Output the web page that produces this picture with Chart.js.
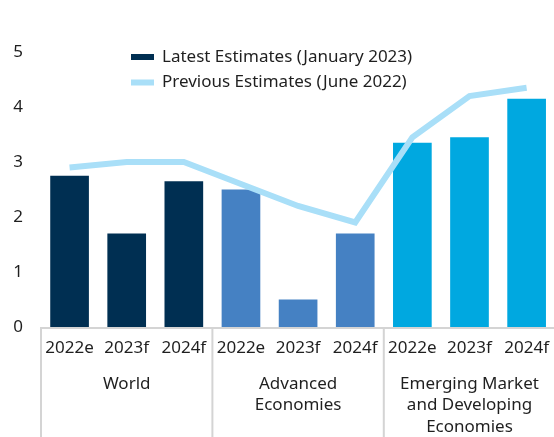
<!DOCTYPE html>
<html>
<head>
<meta charset="utf-8">
<script src="https://cdn.jsdelivr.net/npm/chart.js@4"></script>
<style>
	html, body { margin: 0; padding: 0; background: #fff; }
	#wrap { width: 554px; height: 437px; overflow: hidden; }
	canvas { display: block; }
</style>
</head>
<body>
<div id="wrap"><canvas id="growthChart" width="560" height="437"></canvas></div>
<script>
const years = ['2022e', '2023f', '2024f', '2022e', '2023f', '2024f', '2022e', '2023f', '2024f'];
const groups = [['World'], ['Advanced', 'Economies'], ['Emerging Market', 'and Developing', 'Economies']];
const latest = [2.75, 1.7, 2.65, 2.5, 0.5, 1.7, 3.35, 3.45, 4.15];
const previous = [2.9, 3.0, 3.0, 2.6, 2.2, 1.9, 3.45, 4.2, 4.35];
const yTicks = [0, 1, 2, 3, 4, 5];
const groupColors = ['#002F52', '#4581C3', '#00A8E0'];

const FONT = '"Noto Sans", Lato, sans-serif';
const FONT_SIZE = 17;
const TEXT = '#1f1f1f';
const RULE = '#d4d4d4';

// legend drawn as two stacked rows inside the plot
const legendRows = {
	id: 'legendRows',
	afterDraw(chart) {
		const ctx = chart.ctx;
		const rows = [
			{ text: 'Latest Estimates (January 2023)', color: groupColors[0] },
			{ text: 'Previous Estimates (June 2022)', color: '#A9DFF8' }
		];
		ctx.save();
		ctx.font = FONT_SIZE + 'px ' + FONT;
		ctx.textBaseline = 'middle';
		rows.forEach((r, i) => {
			const y = 57 + i * 25.5;
			ctx.fillStyle = r.color;
			ctx.fillRect(131, y - 3, 23, 6);
			ctx.fillStyle = TEXT;
			ctx.fillText(r.text, 162, y);
		});
		ctx.restore();
	}
};

// axis line, group separators and group names under the year ticks
const groupAxis = {
	id: 'groupAxis',
	afterDraw(chart) {
		const ctx = chart.ctx;
		const x = chart.scales.x;
		const area = chart.chartArea;
		const step = x.getPixelForValue(1) - x.getPixelForValue(0);
		ctx.save();
		ctx.strokeStyle = RULE;
		ctx.lineWidth = 2;
		ctx.beginPath();
		ctx.moveTo(area.left, area.bottom + 1);
		ctx.lineTo(area.right, area.bottom + 1);
		for (let g = 0; g <= groups.length; g++) {
			const sx = x.getPixelForValue(g * 3) - step / 2;
			ctx.moveTo(sx, area.bottom);
			ctx.lineTo(sx, chart.height);
		}
		ctx.stroke();
		ctx.font = FONT_SIZE + 'px ' + FONT;
		ctx.fillStyle = TEXT;
		ctx.textAlign = 'center';
		ctx.textBaseline = 'middle';
		groups.forEach((lines, g) => {
			const cx = x.getPixelForValue(g * 3 + 1);
			lines.forEach((t, k) => ctx.fillText(t, cx, 384 + k * 21.5));
		});
		ctx.restore();
	}
};

new Chart(document.getElementById('growthChart'), {
	data: {
		labels: years,
		datasets: [{
			type: 'line',
			label: 'Previous Estimates (June 2022)',
			data: previous,
			borderColor: '#A9DFF8',
			borderWidth: 6,
			pointRadius: 0,
			tension: 0,
			order: 0
		}, {
			type: 'bar',
			label: 'Latest Estimates (January 2023)',
			data: latest,
			backgroundColor: latest.map((v, i) => groupColors[Math.floor(i / 3)]),
			categoryPercentage: 1,
			barPercentage: 0.677,
			order: 1
		}]
	},
	options: {
		responsive: false,
		animation: false,
		devicePixelRatio: 1,
		layout: { padding: { top: 52, left: 0, right: 0, bottom: 0 } },
		plugins: {
			legend: { display: false },
			tooltip: { enabled: false }
		},
		scales: {
			x: {
				grid: { display: false, drawTicks: false },
				border: { display: false },
				ticks: {
					color: TEXT,
					font: { family: FONT, size: FONT_SIZE },
					padding: 11,
					maxRotation: 0,
					autoSkip: false
				},
				afterFit: s => { s.height = 110; }
			},
			y: {
				min: 0,
				max: 5,
				afterBuildTicks: s => { s.ticks = yTicks.map(v => ({ value: v })); },
				grid: { display: false, drawTicks: false },
				border: { display: false },
				ticks: {
					color: TEXT,
					font: { family: FONT, size: FONT_SIZE },
					padding: 18
				},
				afterFit: s => { s.width = 41; }
			}
		}
	},
	plugins: [legendRows, groupAxis]
});
</script>
</body>
</html>
